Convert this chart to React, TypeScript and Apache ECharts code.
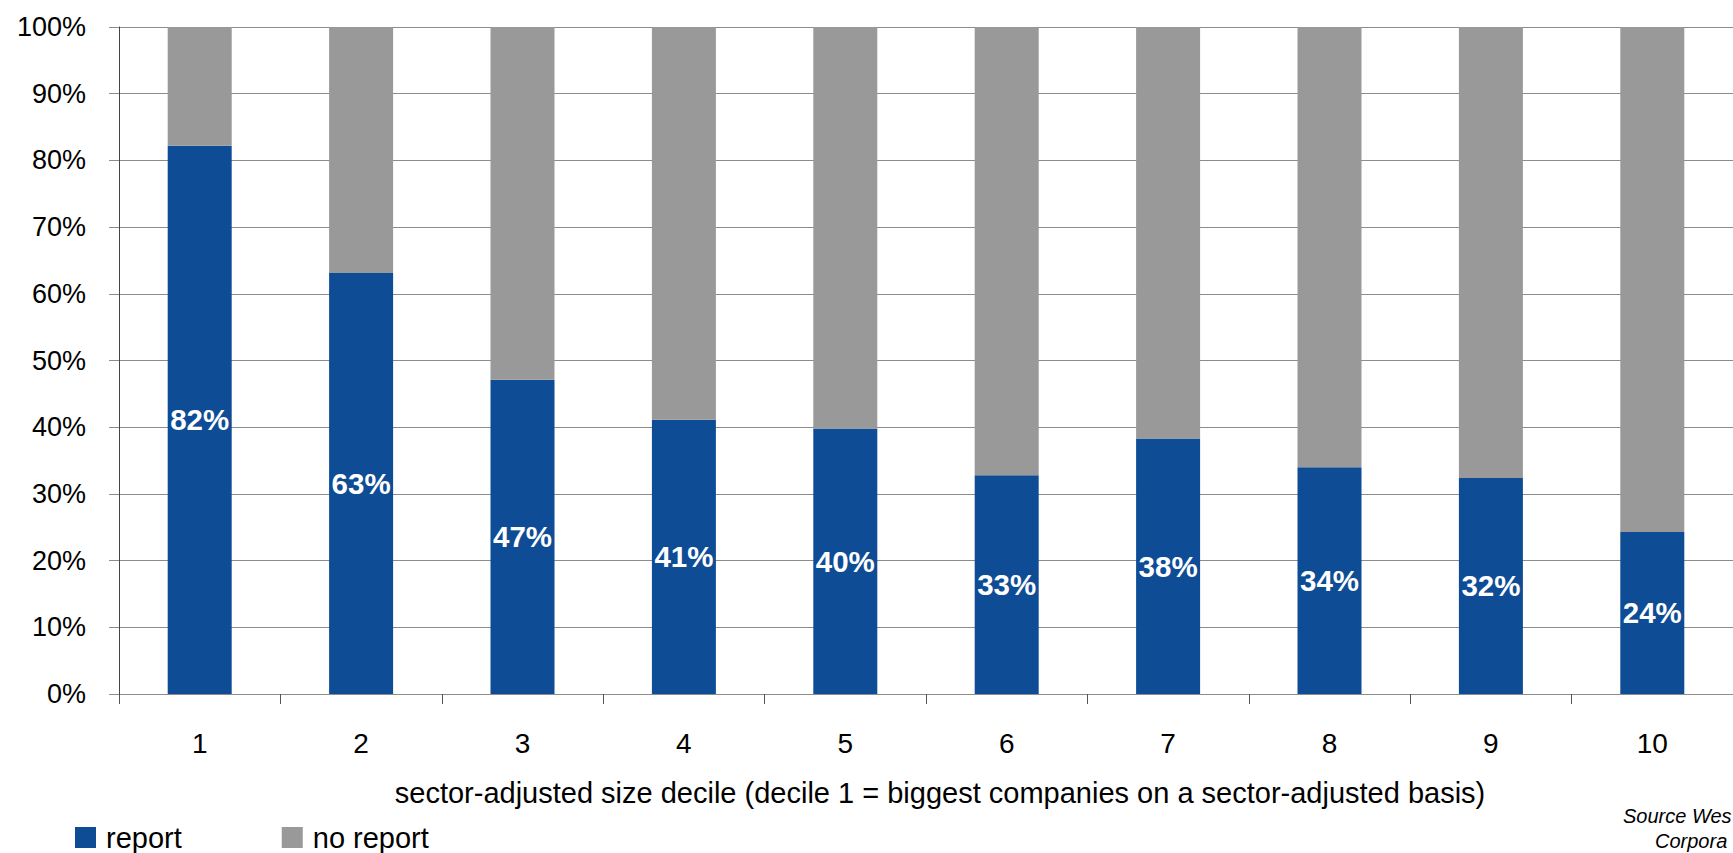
import React, { useEffect, useRef } from "react";
import * as echarts from "echarts";

const categories = ["1", "2", "3", "4", "5", "6", "7", "8", "9", "10"];
const reportValues = [82.2, 63.1, 47.1, 41.1, 39.8, 32.8, 38.3, 34.0, 32.4, 24.3];
const noReportValues = [17.8, 36.9, 52.9, 58.9, 60.2, 67.2, 61.7, 66.0, 67.6, 75.7];
const seriesNames = ["report", "no report"];
const xAxisTitle = "sector-adjusted size decile (decile 1 = biggest companies on a sector-adjusted basis)";
const sourceLines = ["Source Wes", "Corpora"];

const FONT = "'Liberation Sans', Arial, Helvetica, sans-serif";

export default function App() {
  const ref = useRef<HTMLDivElement>(null);
  useEffect(() => {
    if (!ref.current) return;
    const chart = echarts.init(ref.current, null, { renderer: "svg" });
    chart.setOption({
      animation: false,
      backgroundColor: "#ffffff",
      textStyle: { fontFamily: FONT },
      grid: { left: 119, top: 27, width: 1617, height: 667, containLabel: false },
      legend: {
        left: 75,
        top: 823,
        padding: 0,
        itemWidth: 21,
        itemHeight: 21,
        itemGap: 100,
        icon: "rect",
        textStyle: { fontSize: 29, color: "#000", fontFamily: FONT, padding: [0, 0, 0, 5] },
        data: seriesNames,
      },
      xAxis: {
        type: "category",
        data: categories,
        name: xAxisTitle,
        nameLocation: "middle",
        nameGap: 84,
        nameTextStyle: { fontSize: 29, color: "#000", fontFamily: FONT, padding: [0, 0, 0, 28] },
        axisLine: { show: true, lineStyle: { color: "#8c8c8c", width: 1 } },
        axisTick: { show: true, length: 10, lineStyle: { color: "#555", width: 1 } },
        axisLabel: { fontSize: 28, color: "#000", margin: 35, fontFamily: FONT },
        splitLine: { show: false },
      },
      yAxis: {
        type: "value",
        min: 0,
        max: 100,
        interval: 10,
        axisLine: { show: true, lineStyle: { color: "#444", width: 1 } },
        axisTick: { show: true, length: 10, lineStyle: { color: "#8c8c8c", width: 1 } },
        axisLabel: { formatter: "{value}%", fontSize: 27, color: "#000", margin: 33, fontFamily: FONT },
        splitLine: { show: true, lineStyle: { color: "#8c8c8c", width: 1 } },
      },
      series: [
        {
          name: seriesNames[0],
          type: "bar",
          stack: "total",
          barWidth: 64,
          data: reportValues,
          itemStyle: { color: "#0F4C96" },
          label: {
            show: true,
            position: "inside",
            formatter: (p: any) => `${Math.round(p.value)}%`,
            color: "#fff",
            fontWeight: "bold",
            fontSize: 29.5,
            fontFamily: FONT,
          },
        },
        {
          name: seriesNames[1],
          type: "bar",
          stack: "total",
          barWidth: 64,
          data: noReportValues,
          itemStyle: { color: "#999999" },
        },
      ],
      graphic: [
        {
          type: "text",
          left: 1623,
          top: 806,
          style: { text: sourceLines[0], font: `italic 20px ${FONT}`, fill: "#000" },
        },
        {
          type: "text",
          left: 1655,
          top: 831,
          style: { text: sourceLines[1], font: `italic 20px ${FONT}`, fill: "#000" },
        },
      ],
    });
    return () => chart.dispose();
  }, []);
  return (
    <div
      ref={ref}
      style={{ position: "fixed", left: 0, top: 0, width: 1733, height: 853, background: "#fff" }}
    />
  );
}
